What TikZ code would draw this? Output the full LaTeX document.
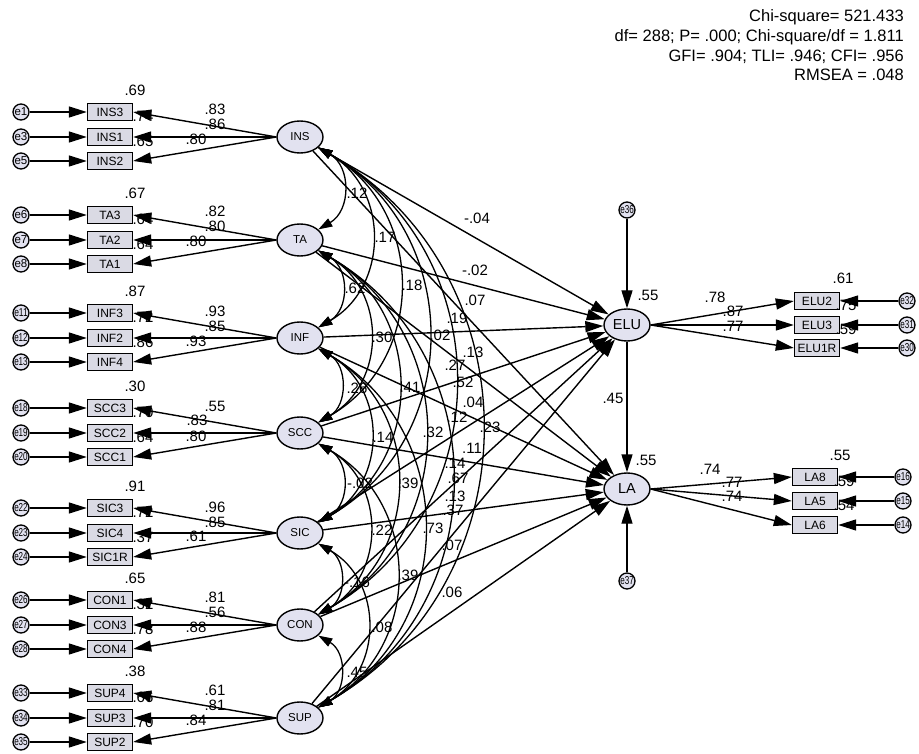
\documentclass[tikz,border=0pt]{standalone}
\usepackage{fontspec}
\setmainfont{Liberation Sans}
\usetikzlibrary{arrows.meta,calc,shapes.geometric}
\definecolor{latfill}{RGB}{226,226,240}
\definecolor{boxfill}{RGB}{218,218,228}
\newcommand\covarc[3]{\draw[covs] (#1.-30) .. controls ($(#1.-30)+({0.866*#3},{0.5*#3})$) and ($(#2.30)+({0.866*#3},{-0.5*#3})$) .. (#2.30);}
\newsavebox\ebox
\newcommand\efit[1]{\sbox\ebox{#1}\ifdim\wd\ebox>13.5pt\resizebox{13.5pt}{\height}{\usebox\ebox}\else\usebox\ebox\fi}
\begin{document}
\begin{tikzpicture}[x=1pt,y=-1pt,
  lat/.style={ellipse,draw,line width=1.4pt,fill=latfill,minimum width=46pt,minimum height=32pt,inner sep=0pt,font=\fontsize{11.5}{11.5}\selectfont},
  ind/.style={rectangle,draw,line width=1.4pt,fill=boxfill,minimum width=45pt,minimum height=17pt,inner sep=0pt,font=\fontsize{12}{12}\selectfont},
  err/.style={circle,draw,line width=1.3pt,fill=latfill,minimum size=16pt,inner sep=0pt,font=\fontsize{11.5}{11.5}\selectfont},
  num/.style={inner sep=0pt,font=\fontsize{15}{15}\selectfont},
  reg/.style={line width=1.4pt,-{Triangle[length=18pt,width=11pt]}},
  covs/.style={line width=1.3pt,{Triangle[length=14pt,width=9pt]}-{Triangle[length=14pt,width=9pt]}},
  fit/.style={anchor=base east,inner sep=0pt,font=\fontsize{16.5}{16.5}\selectfont}
]
\fill[white] (0,0) rectangle (919,754);
\useasboundingbox (0,0) rectangle (919,754);

% ---------- left measurement models ----------
\foreach \L/\y/\ia/\ib/\ic/\ea/\eb/\ec/\rt/\ra/\rb in {
  INS/137/INS3/INS1/INS2/e1/e3/e5/.69/.74/.65,
  TA/240/TA3/TA2/TA1/e6/e7/e8/.67/.64/.64,
  INF/338/INF3/INF2/INF4/e11/e12/e13/.87/.72/.86,
  SCC/433/SCC3/SCC2/SCC1/e18/e19/e20/.30/.70/.64,
  SIC/533/SIC3/SIC4/SIC1R/e22/e23/e24/.91/.72/.37,
  CON/625/CON1/CON3/CON4/e26/e27/e28/.65/.32/.78,
  SUP/718/SUP4/SUP3/SUP2/e33/e34/e35/.38/.66/.70}{
  \node[lat] (\L) at (300,\y) {\L};
  \node[ind] (\ia) at (110,\y-25) {\ia};
  \node[ind] (\ib) at (110,\y) {\ib};
  \node[ind] (\ic) at (110,\y+24) {\ic};
  \node[err] (\ea) at (21,\y-25) {\efit{\ea}};
  \node[err] (\eb) at (21,\y) {\efit{\eb}};
  \node[err] (\ec) at (21,\y+24) {\efit{\ec}};
  \node[num] at (135,\y-47) {\rt};
  \node[num] at (143,\y-21) {\ra};
  \node[num] at (143,\y+4) {\rb};
  \draw[reg] (\L.west) -- (\ia.east);
  \draw[reg] (\L.west) -- (\ib.east);
  \draw[reg] (\L.west) -- (\ic.east);
  \draw[reg] (\ea) -- (\ia);
  \draw[reg] (\eb) -- (\ib);
  \draw[reg] (\ec) -- (\ic);
}

% loading labels
\foreach \x/\y/\t in {
  215/109/.83, 215/124/.86, 196/139/.80,
  215/211/.82, 215/226/.80, 196/241/.80,
  215/311/.93, 215/326/.85, 196/341/.93,
  215/406/.55, 197/420/.83, 196/436/.80,
  215/507/.96, 215/522/.85, 196/536/.61,
  215/597/.81, 215/612/.56, 196/627/.88,
  215/690/.61, 215/705/.81, 196/720/.84}{
  \node[num] at (\x,\y) {\t};
}

% ---------- right side ----------
\node[lat,font=\fontsize{14.5}{14.5}\selectfont] (ELU) at (627,325) {ELU};
\node[lat,font=\fontsize{14.5}{14.5}\selectfont] (LA) at (627,489) {LA};
\node[err] (e36) at (627,210) {\efit{e36}};
\node[err] (e37) at (627,581) {\efit{e37}};

\node[ind] (ELU2) at (817,301) {ELU2};
\node[ind] (ELU3) at (817,325) {ELU3};
\node[ind] (ELU1R) at (817,348) {ELU1R};
\node[err] (e32) at (907,301) {\efit{e32}};
\node[err] (e31) at (907,325) {\efit{e31}};
\node[err] (e30) at (907,348) {\efit{e30}};

\node[ind] (LA8) at (815,477) {LA8};
\node[ind] (LA5) at (815,501) {LA5};
\node[ind] (LA6) at (815,525) {LA6};
\node[err] (e16) at (903,477) {\efit{e16}};
\node[err] (e15) at (903,501) {\efit{e15}};
\node[err] (e14) at (903,525) {\efit{e14}};

\node[num] at (843,278) {.61};
\node[num] at (846,305) {.75};
\node[num] at (846,329) {.59};
\node[num] at (840,455) {.55};
\node[num] at (844,481) {.59};
\node[num] at (844,505) {.54};

\draw[reg] (e36) -- (ELU);
\draw[reg] (e37) -- (LA);
\draw[reg] (ELU) -- (LA);
\draw[reg] (ELU.east) -- (ELU2.west);
\draw[reg] (ELU.east) -- (ELU3.west);
\draw[reg] (ELU.east) -- (ELU1R.west);
\draw[reg] (LA.east) -- (LA8.west);
\draw[reg] (LA.east) -- (LA5.west);
\draw[reg] (LA.east) -- (LA6.west);
\draw[reg] (e32) -- (ELU2);
\draw[reg] (e31) -- (ELU3);
\draw[reg] (e30) -- (ELU1R);
\draw[reg] (e16) -- (LA8);
\draw[reg] (e15) -- (LA5);
\draw[reg] (e14) -- (LA6);

\node[num] at (715,297) {.78};
\node[num] at (733,311) {.87};
\node[num] at (733,326) {.77};
\node[num] at (710,469) {.74};
\node[num] at (732,482) {.77};
\node[num] at (732,496) {.74};
\node[num] at (648,295) {.55};
\node[num] at (646,460) {.55};
\node[num] at (613,398) {.45};

% ---------- structural paths ----------
\foreach \L in {INS,TA,INF,SCC,SIC,CON,SUP}{
  \draw[reg] (\L) -- (ELU);
  \draw[reg] (\L) -- (LA);
}

% ---------- covariances ----------
\covarc{INS}{TA}{38}
\covarc{INS}{INF}{82}
\covarc{INS}{SCC}{125}
\covarc{INS}{SIC}{169}
\covarc{INS}{CON}{210}
\covarc{INS}{SUP}{251}
\covarc{TA}{INF}{36}
\covarc{TA}{SCC}{79}
\covarc{TA}{SIC}{123}
\covarc{TA}{CON}{164}
\covarc{TA}{SUP}{205}
\covarc{INF}{SCC}{34}
\covarc{INF}{SIC}{80}
\covarc{INF}{CON}{121}
\covarc{INF}{SUP}{162}
\covarc{SCC}{SIC}{37}
\covarc{SCC}{CON}{78}
\covarc{SCC}{SUP}{120}
\covarc{SIC}{CON}{33}
\covarc{SIC}{SUP}{75}
\covarc{CON}{SUP}{33}

% middle labels
\foreach \x/\y/\t in {
  477/218/-.04, 475/270/-.02, 475/300/.07, 457/318/.19, 440/335/.02,
  382/337/.30, 473/352/.13, 455/365/.27, 463/382/.52, 410/387/.41,
  473/402/.04, 457/417/.12, 490/427/.23, 357/388/.26, 433/432/.32,
  383/437/.14, 472/448/.11, 455/463/.14, 458/478/.67, 360/483/-.02,
  408/483/.39, 455/496/.13, 453/510/.37, 382/530/.22, 433/528/.73,
  452/545/.07, 408/575/.39, 452/592/.06, 357/582/-.16, 382/627/.08,
  357/672/.45, 357/193/.12, 385/237/.17, 355/288/.62, 412/285/.18}{
  \node[num] at (\x,\y) {\t};
}

% fit statistics
\node[fit] at (904,22) {Chi-square= 521.433};
\node[fit] at (904,42) {df= 288; P= .000; Chi-square/df = 1.811};
\node[fit] at (904,62) {GFI= .904; TLI= .946; CFI= .956};
\node[fit] at (904,81) {RMSEA = .048};
\end{tikzpicture}
\end{document}
